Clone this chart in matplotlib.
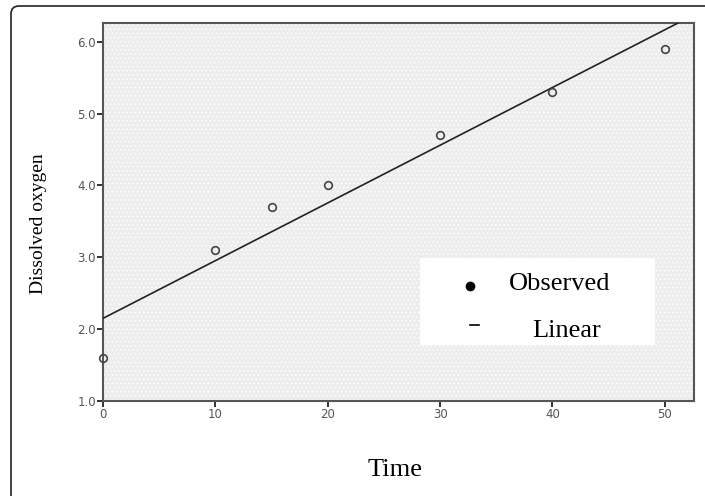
import numpy as np
import matplotlib.pyplot as plt
from matplotlib.patches import Rectangle, FancyBboxPatch

# dissolved oxygen readings over time
time = [0, 10, 15, 20, 30, 40, 50]
oxygen = [1.6, 3.1, 3.7, 4.0, 4.7, 5.3, 5.9]
xticks = [0, 10, 20, 30, 40, 50]
yticks = [1.0, 2.0, 3.0, 4.0, 5.0, 6.0]

plt.rcParams['hatch.linewidth'] = 0.6

W, H = 705, 496
fig = plt.figure(figsize=(W / 100, H / 100), dpi=100)
ax = fig.add_axes([103 / W, 1 - 401 / H, 591 / W, 378 / H])

# dotted grey background like the SPSS plot
ax.set_facecolor('#ededed')
bg = Rectangle((0, 0), 1, 1, transform=ax.transAxes, facecolor='none',
               edgecolor='white', hatch='....', linewidth=0, zorder=0)
ax.add_patch(bg)

ax.set_xlim(0, 52.6)
ax.set_ylim(1.0, 6.26)

# linear fit
slope, icpt = np.polyfit(time, oxygen, 1)
xs = np.array([0, 52.6])
ax.plot(xs, icpt + slope * xs, color='#222222', linewidth=1.2, zorder=3)

ax.plot(time, oxygen, 'o', markersize=5.5, markerfacecolor='none',
        markeredgecolor='#444444', markeredgewidth=1.2, zorder=4,
        clip_on=False)

ax.set_xticks(xticks)
ax.set_xticklabels([str(t) for t in xticks])
ax.set_yticks(yticks)
ax.set_yticklabels(['%.1f' % t for t in yticks])
ax.tick_params(direction='out', length=4, width=1.4, color='#333333',
               labelsize=8.5, labelcolor='#555555', pad=1)
for s in ax.spines.values():
    s.set_color('#555555')
    s.set_linewidth(1.5)

serif = 'Liberation Serif'
ax.set_ylabel('Dissolved oxygen', fontsize=14, family=serif)
ax.yaxis.set_label_coords((47 - 103) / 591, (401 - 224) / 378)
fig.text(395 / W, 1 - 470 / H, 'Time', fontsize=19, family=serif,
         ha='center', va='center')

# legend box drawn by hand
ax.add_patch(Rectangle((0.536, 0.148), 0.398, 0.230, transform=ax.transAxes,
                       facecolor='white', edgecolor='none', zorder=5))
ax.plot([(470 - 103) / 591], [(401 - 286) / 378], 'o', color='black',
        markersize=6, transform=ax.transAxes, zorder=6)
ax.text((509 - 103) / 591, (401 - 284) / 378, 'Observed', family=serif,
        fontsize=19, va='center', transform=ax.transAxes, zorder=6)
ax.plot([(470 - 103) / 591, (479 - 103) / 591], [(401 - 325) / 378] * 2,
        color='black', linewidth=1.2, transform=ax.transAxes, zorder=6)
ax.text((532 - 103) / 591, (401 - 331) / 378, 'Linear', family=serif,
        fontsize=19, va='center', transform=ax.transAxes, zorder=6)

# outer frame, only top and left edges visible
frame = FancyBboxPatch((11, -50), 800, 490 + 50, boxstyle='round,pad=0,rounding_size=8',
                       transform=None, facecolor='none', edgecolor='#222222',
                       linewidth=1.2)
fig.add_artist(frame)

fig.savefig('out.png', dpi=100)
